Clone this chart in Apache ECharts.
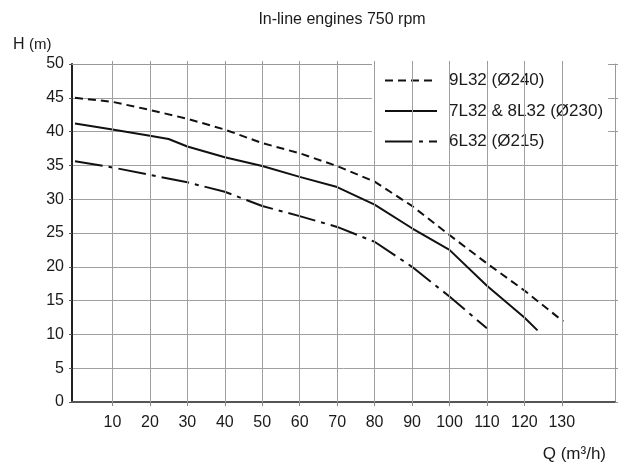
<!DOCTYPE html>
<html><head><meta charset="utf-8">
<script src="https://cdn.jsdelivr.net/npm/echarts@6/dist/echarts.min.js"></script>
<style>html,body{margin:0;padding:0;background:#fff}#c{width:619px;height:466px}</style>
</head><body><div id="c"></div>
<script>
const chartTitle = 'In-line engines 750 rpm';
const yName = 'H';
const yUnit = '(m)';
const xName = 'Q (m³/h)';
const seriesNames = ['9L32 (Ø240)', '7L32 & 8L32 (Ø230)', '6L32 (Ø215)'];
const q9 = [0, 10, 20, 30, 40, 50, 60, 70, 80, 90, 100, 110, 120, 130.4];
const h9 = [45.0, 44.4, 43.2, 41.9, 40.3, 38.3, 36.8, 34.9, 32.6, 29.0, 24.7, 20.5, 16.5, 11.9];
const q7 = [0, 10, 20, 25, 30, 40, 50, 60, 70, 80, 90, 100, 110, 120, 123.5];
const h7 = [41.2, 40.3, 39.4, 38.9, 37.8, 36.2, 34.9, 33.3, 31.8, 29.2, 25.7, 22.5, 17.2, 12.5, 10.6];
const q6 = [0, 10, 20, 30, 40, 50, 60, 70, 80, 90, 100, 110];
const h6 = [35.6, 34.7, 33.6, 32.5, 31.1, 29.0, 27.5, 25.9, 23.7, 20.0, 15.6, 10.9];
const xTicks = [10, 20, 30, 40, 50, 60, 70, 80, 90, 100, 110, 120, 130];
const xMin = -0.8, xMax = 144.2;
const yMin = 0, yMax = 50, yStep = 5;

const FONT = 'Liberation Sans, Arial, sans-serif';
const TXT = '#1a1a1a';
const GRID = '#a0a0a0';
const pair = (qs, hs) => qs.map((q, i) => [q, hs[i]]);

const chart = echarts.init(document.getElementById('c'), null, {renderer: 'canvas'});
chart.setOption({
  animation: false,
  backgroundColor: '#fff',
  textStyle: {fontFamily: FONT},
  grid: {left: 72, right: 4, top: 64, bottom: 64, show: false},
  graphic: [
    {type: 'text', x: 342, y: 20, style: {text: chartTitle, fill: TXT, font: '16px ' + FONT,
      align: 'center', verticalAlign: 'middle', textAlign: 'center', textVerticalAlign: 'middle'}},
    {type: 'text', left: 13, top: 37, style: {text: '{a|' + yName + '} {b|' + yUnit + '}', fill: TXT, font: '16px ' + FONT,
      rich: {a: {fontSize: 16, fontFamily: FONT, fill: TXT}, b: {fontSize: 15, fontFamily: FONT, fill: TXT}}}},
    {type: 'text', right: 13, top: 446, style: {text: xName, fill: TXT, font: '17px ' + FONT}}
  ],
  legend: {
    orient: 'vertical', left: 372, top: 64, padding: [8, 5, 1, 12],
    itemWidth: 52, itemHeight: 16, itemGap: 13.5,
    backgroundColor: '#fff', selectedMode: false,
    itemStyle: {color: 'rgba(0,0,0,0)', borderColor: 'rgba(0,0,0,0)', borderWidth: 0},
    textStyle: {fontSize: 17, color: TXT, fontFamily: FONT, padding: [0, 0, 0, 7]},
    data: seriesNames
  },
  xAxis: [
    {type: 'value', position: 'bottom', min: xMin, max: xMax,
      axisLine: {show: true, onZero: false, lineStyle: {color: '#555', width: 2}},
      axisTick: {show: true, customValues: xTicks, length: 4, lineStyle: {color: '#888'}},
      axisLabel: {customValues: xTicks, margin: 13, fontSize: 16, color: TXT, fontFamily: FONT},
      splitLine: {show: false}},
    {type: 'value', position: 'top', min: xMin, max: xMax,
      axisLine: {show: true, onZero: false, lineStyle: {color: '#999', width: 1}},
      axisTick: {show: true, customValues: xTicks, length: 3, lineStyle: {color: '#999'}},
      axisLabel: {show: false}, splitLine: {show: false}}
  ],
  yAxis: [
    {type: 'value', position: 'left', min: yMin, max: yMax, interval: yStep,
      axisLine: {show: true, onZero: false, lineStyle: {color: '#222', width: 2}},
      axisTick: {show: true, length: 3, lineStyle: {color: '#555'}},
      axisLabel: {fontSize: 16, margin: 8, color: TXT, fontFamily: FONT},
      splitLine: {show: true, lineStyle: {color: GRID, width: 1}}},
    {type: 'value', position: 'right', min: yMin, max: yMax, interval: yStep,
      axisLine: {show: true, onZero: false, lineStyle: {color: '#999', width: 1}},
      axisTick: {show: true, length: 3, lineStyle: {color: '#999'}},
      axisLabel: {show: false}, splitLine: {show: false}}
  ],
  series: [
    {name: seriesNames[0], type: 'line', symbol: 'none', data: pair(q9, h9), z: 3,
      itemStyle: {color: '#111'}, lineStyle: {color: '#111', width: 2, type: [8, 5]},
      markLine: {silent: true, symbol: ['none', 'none'], label: {show: false}, animation: false,
        lineStyle: {color: GRID, width: 1, type: 'solid'}, emphasis: {disabled: true},
        data: xTicks.map(v => ({xAxis: v}))}},
    {name: seriesNames[1], type: 'line', symbol: 'none', data: pair(q7, h7), z: 3,
      itemStyle: {color: '#111'}, lineStyle: {color: '#111', width: 2, type: 'solid'}},
    {name: seriesNames[2], type: 'line', symbol: 'none', data: pair(q6, h6), z: 3,
      itemStyle: {color: '#111'}, lineStyle: {color: '#111', width: 2, type: [28, 6, 4, 6]}}
  ]
});
</script></body></html>
